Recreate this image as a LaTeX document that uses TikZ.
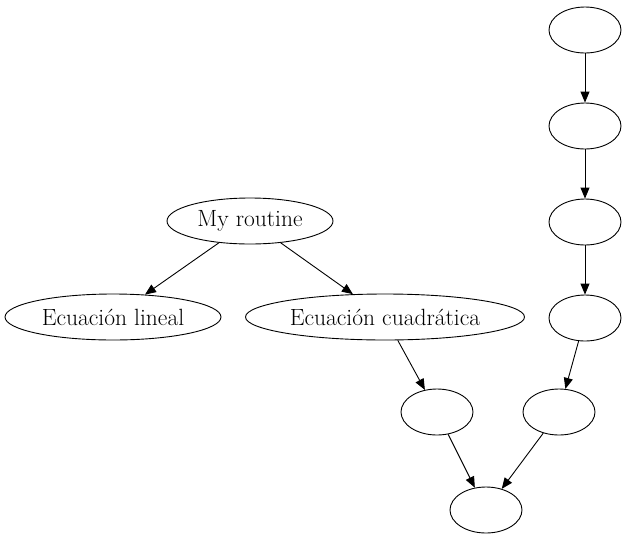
\documentclass[tikz,border=0pt]{standalone}
\usetikzlibrary{shapes.geometric,arrows.meta}
\begin{document}
\begin{tikzpicture} [x=1pt, y=-1pt, line width=0.9pt, >={Triangle[length=11pt,width=9pt]}]
\useasboundingbox (0,0) rectangle (627,539);
\tikzstyle{every node}=[draw,shape=ellipse,inner sep=0pt,minimum height=46pt,minimum width=72pt,font=\fontsize{23.5}{27}\selectfont];
\node [minimum width=166pt] (r) at (250,221) {My routine};
\node [minimum width=216pt] (lin) at (113,317) {Ecuación lineal};
\node [minimum width=279pt] (cuad) at (385,317) {Ecuación cuadrática};
\node (e1) at (437,412) {};
\node (fin) at (486,510) {};
\node (c1) at (585,30) {};
\node (c2) at (585,126) {};
\node (c3) at (585,222) {};
\node (c4) at (585,318) {};
\node (c5) at (559,412) {};
\draw [->] (r) -- (lin); % routine
\draw [->] (r) -- (cuad);
\draw [->] (cuad) -- (e1);
\draw [->] (e1) -- (fin);
\draw [->] (c1) -- (c2); % chain
\draw [->] (c2) -- (c3);
\draw [->] (c3) -- (c4);
\draw [->] (c4) -- (c5);
\draw [->] (c5) -- (fin);
\end{tikzpicture}
\end{document}
